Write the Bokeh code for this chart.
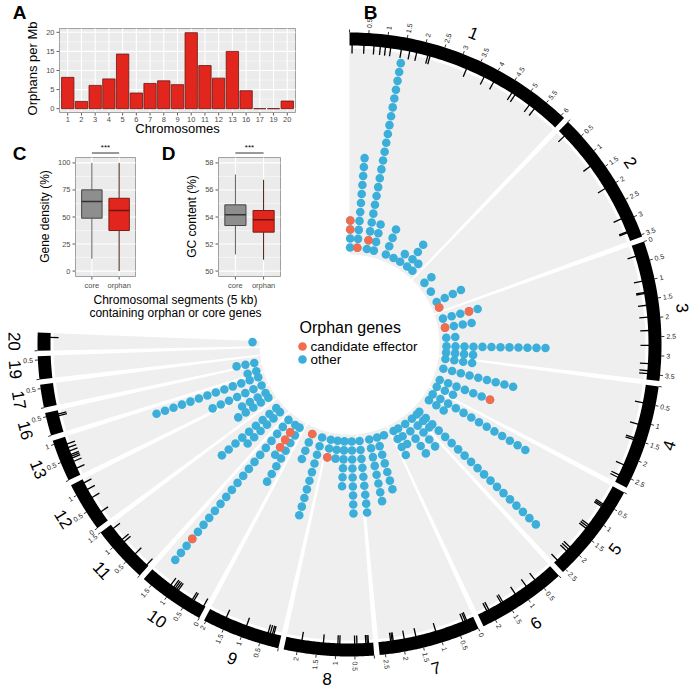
import math
from bokeh.plotting import figure
from bokeh.models import Range1d
from bokeh.embed import file_html
from bokeh.resources import INLINE
from bokeh.core.properties import value

FONT = "Liberation Sans"

# ---------------- data ----------------
# Panel A: orphan genes per Mb for each chromosome
bar_chroms = ["1", "2", "3", "4", "5", "6", "7", "8", "9", "10", "11", "12", "13", "16", "17", "19", "20"]
orphans_per_mb = [8.2, 1.9, 6.1, 7.8, 14.3, 4.1, 6.6, 7.3, 6.3, 19.9, 11.3, 8.0, 15.0, 4.7, 0.0, 0.0, 2.0]
bar_ticks = [0, 5, 10, 15, 20]

# Panels C and D: box plot statistics (core, orphan)
box_groups = ["core", "orphan"]
density_low = [11.4, 0.0]
density_q1 = [48.9, 37.5]
density_med = [64.3, 56.0]
density_q3 = [75.1, 67.3]
density_high = [100.0, 100.0]
density_ticks = [0, 25, 50, 75, 100]
gc_low = [51.23, 50.84]
gc_q1 = [53.37, 52.88]
gc_med = [54.16, 53.79]
gc_q3 = [54.90, 54.48]
gc_high = [57.14, 56.75]
gc_ticks = [50, 52, 54, 56, 58]

# Panel B: chromosomes and sizes (Mb)
chrom_names = ["1", "2", "3", "4", "5", "6", "7", "8", "9", "10", "11", "12", "13", "16", "17", "19", "20"]
chrom_sizes = [6.1, 3.55, 3.65, 2.75, 2.6, 2.35, 2.65, 2.35, 2.05, 1.75, 1.5, 1.3, 1.1, 0.6, 0.6, 0.6, 0.47]
zero_label_chroms = ["3", "7", "10", "12"]

# orphan gene stacks: chromosome, position (Mb), number of orphan genes
col_chrom = ["1", "1", "1", "1", "1", "1", "1", "1", "1",
             "2", "2", "2", "2",
             "3", "3", "3", "3", "3",
             "4", "4", "4", "4",
             "5", "5", "5", "5",
             "6", "6", "6", "6",
             "7", "7", "7", "7",
             "8", "8", "8", "8",
             "9", "9",
             "10", "10", "10",
             "11", "11",
             "12", "12",
             "13", "13",
             "16", "17", "20"]
col_pos = [0.05, 0.65, 1.45, 2.04, 3.09, 3.79, 4.42, 5.12, 5.68,
           0.86, 1.76, 2.74, 3.24,
           0.53, 1.30, 2.14, 2.85, 3.38,
           0.12, 0.95, 1.93, 2.55,
           0.37, 0.94, 2.20, 2.50,
           0.30, 1.00, 1.70, 2.13,
           0.51, 1.11, 1.78, 2.59,
           0.45, 1.06, 1.62, 2.20,
           0.45, 1.32,
           0.31, 0.73, 1.43,
           0.50, 0.95,
           0.40, 0.85,
           0.11, 0.85,
           0.13, 0.10, 0.36]
col_count = [4, 11, 22, 4, 4, 1, 2, 4, 2,
             2, 1, 4, 1,
             5, 4, 2, 12, 4,
             4, 9, 7, 3,
             13, 3, 19, 3,
             5, 5, 3, 4,
             1, 7, 8, 9,
             9, 6, 3, 3,
             10, 4,
             8, 5, 21,
             6, 9,
             5, 4,
             7, 13,
             2, 3, 1]
# candidate effectors: chromosome, position (Mb), level in the stack
eff_chrom = ["1", "1", "1", "1", "2", "3", "3", "4", "8", "9", "10", "10", "10", "10"]
eff_pos = [0.05, 0.05, 0.65, 1.45, 3.24, 0.53, 1.30, 1.93, 2.20, 1.32, 0.73, 0.73, 0.73, 1.43]
eff_level = [2, 3, 0, 1, 0, 3, 0, 6, 2, 0, 1, 2, 3, 17]

# marks drawn on the inner side of the chromosome ring (Mb)
mark_chrom = (["1"] * 18 + ["2"] * 6 + ["3"] * 11 + ["4"] * 7 + ["5"] * 10 + ["6"] * 7 +
              ["7"] * 9 + ["8"] * 9 + ["9"] * 6 + ["10"] * 8 + ["11"] * 5 + ["12"] * 4 +
              ["13"] * 8 + ["16"] * 2 + ["20"])
mark_pos = ([0.07, 0.39, 0.66, 0.83, 0.97, 1.11, 1.40, 1.63, 1.82, 2.13, 2.19, 3.23, 3.75, 4.04, 4.61, 4.71, 5.18, 5.35] +
            [0.2, 1.27, 1.99, 2.91, 3.29, 3.32] +
            [0.3, 0.99, 1.3, 1.33, 1.65, 1.97, 2.33, 2.73, 3.22, 3.41, 3.49] +
            [0.49, 1.08, 1.46, 1.51, 2.24, 2.54, 2.61] +
            [0.54, 0.58, 0.62, 1.22, 1.28, 1.34, 2.0, 2.07, 2.14, 2.49] +
            [0.55, 0.84, 1.2, 1.6, 1.65, 2.03, 2.09] +
            [0.2, 0.24, 0.3, 1.08, 1.63, 1.95, 2.25, 2.28, 2.32] +
            [0.13, 0.16, 0.2, 0.44, 0.5, 0.9, 0.95, 1.34, 1.92] +
            [0.2, 0.24, 0.3, 0.36, 0.97, 1.56] +
            [0.05, 0.35, 0.4, 0.85, 0.9, 0.95, 1.0, 1.1] +
            [0.05, 0.48, 0.92, 1.0, 1.38] +
            [0.3, 0.75, 1.0, 1.2] +
            [0.2, 0.4, 0.5, 0.55, 0.6, 0.7, 0.8, 0.9] +
            [0.45, 0.5] + [0.35])

# ---------------- colours ----------------
RED_BAR = "#E2261E"
BLUE = "#3BAFDA"
ORANGE = "#F46B4E"
SECTOR_GRAY = "#EFEFEF"
PANEL_BG = "#EBEBEB"
TICK_TXT = "#4D4D4D"

# ---------------- page / figure ----------------
W, H = 694, 690
PX0, PX1 = 0, W              # screenshot x of figure left / right
PY_BOT, PY_TOP = H, 0        # screenshot y of figure bottom / top

p = figure(width=W, height=H, x_range=Range1d(PX0, PX1), y_range=Range1d(PY_BOT, PY_TOP),
           output_backend="svg", toolbar_location=None, min_border=0)
p.axis.visible = False
p.grid.visible = False
p.outline_line_color = None


def lin_range(v0, v1, p0, p1, ps, pe):
    """Range whose value v0 lands on pixel p0 and v1 on p1."""
    k = (v1 - v0) / (p1 - p0)
    return Range1d(start=v0 + (ps - p0) * k, end=v0 + (pe - p0) * k)


# panel frames in pixels: (left, right, top, bottom)
FA = (59, 295, 28, 112)
FC = (75, 135, 157, 276)
FD = (218, 280, 157, 276)
A_X, A_Y = (0.4, len(bar_chroms) + 0.6), (-1.0, 21.0)
C_X, C_Y = (0.4, 2.6), (-5.0, 105.0)
D_X, D_Y = (0.4, 2.6), (49.6, 58.4)

p.extra_x_ranges = {
    "ax": lin_range(A_X[0], A_X[1], FA[0], FA[1], PX0, PX1),
    "cx": lin_range(C_X[0], C_X[1], FC[0], FC[1], PX0, PX1),
    "dx": lin_range(D_X[0], D_X[1], FD[0], FD[1], PX0, PX1),
}
p.extra_y_ranges = {
    "ay": lin_range(A_Y[0], A_Y[1], FA[3], FA[2], PY_BOT, PY_TOP),
    "cy": lin_range(C_Y[0], C_Y[1], FC[3], FC[2], PY_BOT, PY_TOP),
    "dy": lin_range(D_Y[0], D_Y[1], FD[3], FD[2], PY_BOT, PY_TOP),
}


def draw_panel(xn, yn, xlim, ylim, frame, yticks, yminor, xticks, xlabels):
    kw = dict(x_range_name=xn, y_range_name=yn)
    upx = (xlim[1] - xlim[0]) / (frame[1] - frame[0])   # x units per pixel
    p.quad(left=[xlim[0]], right=[xlim[1]], bottom=[ylim[0]], top=[ylim[1]],
           fill_color=PANEL_BG, line_color="#8A8A8A", line_width=0.8, **kw)
    p.segment([xlim[0]] * len(yminor), yminor, [xlim[1]] * len(yminor), yminor,
              line_color="white", line_width=0.5, **kw)
    p.segment([xlim[0]] * len(yticks), yticks, [xlim[1]] * len(yticks), yticks,
              line_color="white", line_width=1.1, **kw)
    p.segment(xticks, [ylim[0]] * len(xticks), xticks, [ylim[1]] * len(xticks),
              line_color="white", line_width=1.1, **kw)
    # tick marks
    p.segment([xlim[0] - 3 * upx] * len(yticks), yticks, [xlim[0]] * len(yticks), yticks,
              line_color="#333333", line_width=0.8, **kw)
    p.text([xlim[0]] * len(yticks), yticks, text=[("%g" % t) for t in yticks], x_offset=-5,
           text_align="right", text_baseline="middle", text_font=value(FONT),
           text_font_size=value("7.5px"), text_color=TICK_TXT, **kw)
    p.text(xticks, [ylim[0]] * len(xticks), text=xlabels, y_offset=4,
           text_align="center", text_baseline="top", text_font=value(FONT),
           text_font_size=value("7.5px"), text_color=TICK_TXT, **kw)
    return kw


# ---- Panel A
xa = list(range(1, len(bar_chroms) + 1))
kwA = draw_panel("ax", "ay", A_X, A_Y, FA, bar_ticks, [2.5, 7.5, 12.5, 17.5], xa, bar_chroms)
upyA = (A_Y[1] - A_Y[0]) / (FA[3] - FA[2])
p.segment(xa, [A_Y[0]] * len(xa), xa, [A_Y[0] - 3 * upyA] * len(xa), line_color="#333333",
          line_width=0.8, **kwA)
p.vbar(x=xa, top=orphans_per_mb, bottom=0, width=0.9, fill_color=RED_BAR,
       line_color="#6A1710", line_width=0.8, **kwA)


# ---- Panels C and D
def box_panel(xn, yn, xlim, ylim, frame, low, q1, med, q3, high, yticks, yminor):
    xs = [1, 2]
    kw = draw_panel(xn, yn, xlim, ylim, frame, yticks, yminor, xs, box_groups)
    upy = (ylim[1] - ylim[0]) / (frame[3] - frame[2])
    p.segment(xs, [ylim[0]] * 2, xs, [ylim[0] - 3 * upy] * 2, line_color="#333333", line_width=0.8, **kw)
    wcol = ["#5E5E5E", "#4A1A14"]
    p.segment(xs, low, xs, q1, line_color=wcol, line_width=1, **kw)
    p.segment(xs, q3, xs, high, line_color=wcol, line_width=1, **kw)
    p.vbar(x=xs, bottom=q1, top=q3, width=0.75, fill_color=["#8E8E8E", RED_BAR],
           line_color=["#454545", "#7A1D14"], line_width=1, **kw)
    p.segment([x - 0.375 for x in xs], med, [x + 0.375 for x in xs], med,
              line_color=["#333333", "#6A1710"], line_width=1.5, **kw)
    # significance bracket above the panel
    yb = ylim[1] + 4.5 * upy
    p.segment([1], [yb], [2], [yb], line_color="black", line_width=0.8, **kw)
    p.text([1.5], [yb], text=["***"], y_offset=-1, text_align="center", text_baseline="bottom",
           text_font=value(FONT), text_font_size=value("8px"), text_color="black", **kw)


box_panel("cx", "cy", C_X, C_Y, FC, density_low, density_q1, density_med, density_q3, density_high,
          density_ticks, [12.5, 37.5, 62.5, 87.5])
box_panel("dx", "dy", D_X, D_Y, FD, gc_low, gc_q1, gc_med, gc_q3, gc_high,
          gc_ticks, [51, 53, 55, 57])

# axis titles and panel letters
p.text([32], [68], text=["Orphans per Mb"], angle=[math.pi / 2], text_align="center",
       text_baseline="middle", text_font=value(FONT), text_font_size=value("13px"), text_color="black")
p.text([177], [128], text=["Chromosomes"], text_align="center",
       text_baseline="middle", text_font=value(FONT), text_font_size=value("13px"), text_color="black")
p.text([44], [216], text=["Gene density (%)"], angle=[math.pi / 2], text_align="center",
       text_baseline="middle", text_font=value(FONT), text_font_size=value("12px"), text_color="black")
p.text([191], [216], text=["GC content (%)"], angle=[math.pi / 2], text_align="center",
       text_baseline="middle", text_font=value(FONT), text_font_size=value("12px"), text_color="black")
p.text([175, 175], [299, 312], text=["Chromosomal segments (5 kb)", "containing orphan or core genes"],
       text_align="center", text_baseline="middle", text_font=value(FONT),
       text_font_size=value("12px"), text_color="black")
p.text([19, 370, 19, 168], [12, 12, 153, 153], text=["A", "B", "C", "D"], text_align="center",
       text_baseline="middle", text_font=value(FONT), text_font_size=value("19px"),
       text_font_style="bold", text_color="black")

# ---------------- circular panel B ----------------
CX, CY = 349.0, 344.0
ARC_START, ARC_END, GAP = 90.0, -182.2, 1.0
R_IN, R_OUT = 90.0, 296.0
RING_IN, RING_OUT = 299.0, 312.0
DOT_R0, DOT_DR = 97.0, 9.0
NAME_R = 335.0

n_chr = len(chrom_names)
deg_per_mb = (ARC_START - ARC_END - GAP * (n_chr - 1)) / sum(chrom_sizes)
chr_start = []
a = ARC_START
for s in chrom_sizes:
    chr_start.append(a)
    a -= s * deg_per_mb + GAP
idx = {c: i for i, c in enumerate(chrom_names)}


def angle_of(chrom, pos):
    return chr_start[idx[chrom]] - pos * deg_per_mb


def pt(theta_deg, r):
    t = math.radians(theta_deg)
    return CX + r * math.cos(t), CY - r * math.sin(t)


def band(a0, a1, r0, r1, n=60):
    xs, ys = [], []
    for k in range(n + 1):
        x, y = pt(a0 + (a1 - a0) * k / n, r1)
        xs.append(x); ys.append(y)
    for k in range(n, -1, -1):
        x, y = pt(a0 + (a1 - a0) * k / n, r0)
        xs.append(x); ys.append(y)
    return xs, ys


sx, sy, rx, ry = [], [], [], []
for i, c in enumerate(chrom_names):
    a0 = chr_start[i]
    a1 = a0 - chrom_sizes[i] * deg_per_mb
    xs, ys = band(a0, a1, R_IN, R_OUT)
    sx.append(xs); sy.append(ys)
    xs, ys = band(a0, a1, RING_IN, RING_OUT)
    rx.append(xs); ry.append(ys)
p.patches(sx, sy, fill_color=SECTOR_GRAY, line_color=None)
p.patches(rx, ry, fill_color="black", line_color=None)

# inner marks
mx0, my0, mx1, my1 = [], [], [], []
for c, ps in zip(mark_chrom, mark_pos):
    th = angle_of(c, ps)
    x0, y0 = pt(th, RING_IN - 8)
    x1, y1 = pt(th, RING_IN + 1)
    mx0.append(x0); my0.append(y0); mx1.append(x1); my1.append(y1)
p.segment(mx0, my0, mx1, my1, line_color="black", line_width=1.3)

# scale ticks and labels
tx0, ty0, tx1, ty1 = [], [], [], []
lab_r = {"x": [], "y": [], "t": [], "a": []}
lab_l = {"x": [], "y": [], "t": [], "a": []}
for i, c in enumerate(chrom_names):
    k = 0
    while k * 0.5 <= chrom_sizes[i] + 1e-9:
        ps = k * 0.5
        th = angle_of(c, ps)
        x0, y0 = pt(th, RING_OUT)
        x1, y1 = pt(th, RING_OUT + 3)
        tx0.append(x0); ty0.append(y0); tx1.append(x1); ty1.append(y1)
        if k > 0 or c in zero_label_chroms:
            lx, ly = pt(th, RING_OUT + 5)
            if math.cos(math.radians(th)) >= -1e-6:
                d = lab_r; ang = math.radians(th)
            else:
                d = lab_l; ang = math.radians(th + 180)
            d["x"].append(lx); d["y"].append(ly); d["t"].append("%g" % ps); d["a"].append(ang)
        k += 1
p.segment(tx0, ty0, tx1, ty1, line_color="black", line_width=0.8)
for d, al in ((lab_r, "left"), (lab_l, "right")):
    p.text(d["x"], d["y"], text=d["t"], angle=d["a"], text_align=al, text_baseline="middle",
           text_font=value(FONT), text_font_size=value("7px"), text_color="#222222")

# chromosome names
nx, ny, nt, na = [], [], [], []
for i, c in enumerate(chrom_names):
    th = chr_start[i] - chrom_sizes[i] * deg_per_mb / 2
    x, y = pt(th, NAME_R)
    rot = th - 90 if th > 0 else th + 90
    nx.append(x); ny.append(y); nt.append(c); na.append(math.radians(rot))
p.text(nx, ny, text=nt, angle=na, text_align="center", text_baseline="middle",
       text_font=value(FONT), text_font_size=value("17px"), text_color="black")

# orphan gene dots
bx, by = [], []
for c, ps, n in zip(col_chrom, col_pos, col_count):
    th = angle_of(c, ps)
    for k in range(n):
        x, y = pt(th, DOT_R0 + k * DOT_DR)
        bx.append(x); by.append(y)
p.scatter(bx, by, size=8.6, fill_color=BLUE, line_color=None)
ex, ey = [], []
for c, ps, lv in zip(eff_chrom, eff_pos, eff_level):
    x, y = pt(angle_of(c, ps), DOT_R0 + lv * DOT_DR)
    ex.append(x); ey.append(y)
p.scatter(ex, ey, size=8.6, fill_color=ORANGE, line_color=None)

# legend in the centre
p.text([299], [327], text=["Orphan genes"], text_align="left", text_baseline="middle",
       text_font=value(FONT), text_font_size=value("16px"), text_color="black")
p.scatter([302, 302], [346, 359], size=8.6, fill_color=[ORANGE, BLUE], line_color=None)
p.text([310, 310], [346, 359], text=["candidate effector", "other"], text_align="left",
       text_baseline="middle", text_font=value(FONT), text_font_size=value("13.5px"), text_color="black")

open("out.html", "w").write(file_html(p, INLINE))
